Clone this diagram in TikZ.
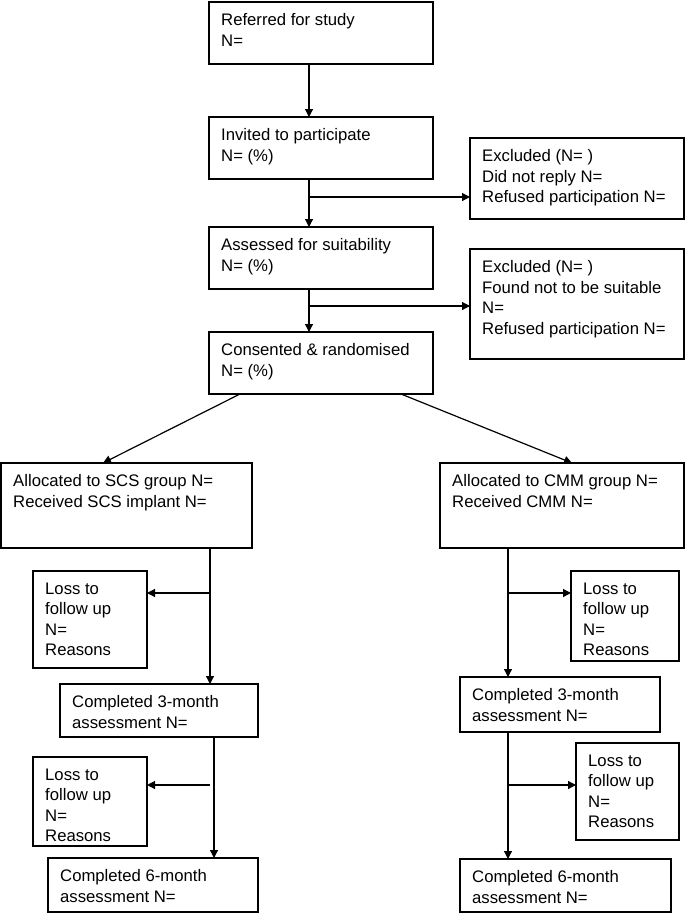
\documentclass[tikz,border=0pt]{standalone}
\usepackage{fontspec}
\setmainfont{Liberation Sans}
\usetikzlibrary{arrows.meta,calc}
\tikzset{
  box/.style={draw, line width=1.2pt, anchor=north west, inner sep=0pt, outer sep=0pt},
  txt/.style={anchor=north west, inner sep=0pt, align=left, font=\fontsize{16.7}{20.5}\selectfont},
  arr/.style={line width=1.2pt, -{Triangle[length=8pt,width=8pt]}}
}
\newcommand\flowbox[6]{%
  \node[box, minimum width=#4pt, minimum height=#5pt] (#1) at (#2,#3) {};
  \node[txt] (#1t) at ($(#1.north west)+(12,11.4)$) {#6};}
\begin{document}
\begin{tikzpicture}[x=1pt,y=-1pt]
\useasboundingbox[fill=white] (0,0) rectangle (685,913);
\flowbox{ref}{209}{2}{224}{62}{Referred for study\\N=}
\flowbox{inv}{209}{117}{224}{62}{Invited to participate\\N= (\%)}
\flowbox{exc1}{470}{138}{214}{81}{Excluded (N= )\\Did not reply N=\\Refused participation N=}
\flowbox{ass}{209}{227}{224}{62}{Assessed for suitability\\N= (\%)}
\flowbox{exc2}{470}{249}{214}{110}{Excluded (N= )\\Found not to be suitable\\N=\\Refused participation N=}
\flowbox{cons}{209}{332}{224}{62}{Consented \& randomised\\N= (\%)}
\flowbox{scs}{1}{463}{251}{85}{Allocated to SCS group N=\\Received SCS implant N=}
\flowbox{cmm}{440}{463}{244}{85}{Allocated to CMM group N=\\Received CMM N=}
\flowbox{lla}{33}{571}{114}{97}{Loss to\\follow up\\N=\\Reasons}
\flowbox{cla}{60}{684}{198}{53}{Completed 3-month\\assessment N=}
\flowbox{llb}{33}{757}{114}{89}{Loss to\\follow up\\N=\\Reasons}
\flowbox{clb}{48}{858}{210}{54}{Completed 6-month\\assessment N=}
\flowbox{lra}{571}{571}{108}{90}{Loss to\\follow up\\N=\\Reasons}
\flowbox{cra}{460}{677}{200}{55}{Completed 3-month\\assessment N=}
\flowbox{lrb}{576}{743}{103}{97}{Loss to\\follow up\\N=\\Reasons}
\flowbox{crb}{460}{859}{211}{53}{Completed 6-month\\assessment N=}
% top spine
\coordinate (sp) at (309,0);
\draw[arr] (ref.south -| sp) -- (inv.north -| sp);
\draw[arr] (inv.south -| sp) -- (ass.north -| sp);
\draw[arr] (ass.south -| sp) -- (cons.north -| sp);
\coordinate (j1) at (309,197);
\draw[arr] (j1) -- (exc1.west |- j1);
\coordinate (j2) at (309,306);
\draw[arr] (j2) -- (exc2.west |- j2);
% split
\draw[arr] ($(cons.south west)+(31,0)$) -- ($(scs.north west)+(102,0)$);
\draw[arr] ($(cons.south west)+(192,0)$) -- ($(cmm.north west)+(132,0)$);
% left column
\coordinate (sl) at (210,0);
\coordinate (slb) at (214,0);
\draw[arr] (scs.south -| sl) -- (cla.north -| sl);
\coordinate (j3) at (210,593);
\draw[arr] (j3) -- (lla.east |- j3);
\draw[arr] (cla.south -| slb) -- (clb.north -| slb);
\coordinate (j4) at (210,785);
\draw[arr] (j4) -- (llb.east |- j4);
% right column
\coordinate (sr) at (508,0);
\draw[arr] (cmm.south -| sr) -- (cra.north -| sr);
\coordinate (j5) at (508,593);
\draw[arr] (j5) -- (lra.west |- j5);
\draw[arr] (cra.south -| sr) -- (crb.north -| sr);
\coordinate (j6) at (508,785);
\draw[arr] (j6) -- (lrb.west |- j6);
\end{tikzpicture}
\end{document}
